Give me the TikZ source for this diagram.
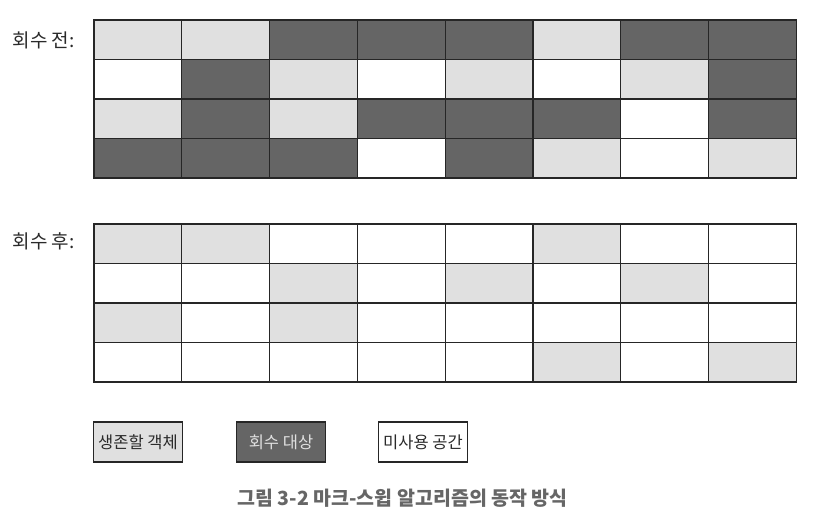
\documentclass[tikz,border=0pt]{standalone}
\usepackage{fontspec}
\setmainfont{Noto Sans CJK KR}
\usetikzlibrary{positioning}

\definecolor{live}{HTML}{E0E0E0}
\definecolor{dead}{HTML}{656565}
\definecolor{free}{HTML}{FFFFFF}
\definecolor{inktext}{HTML}{2A2A2A}

\tikzset{
    cell/.style={rectangle, draw=black!85, line width=1.2pt, minimum width=87.8pt, minimum height=39.5pt, inner sep=0pt},
    keybox/.style={rectangle, draw=black!85, line width=1.2pt, minimum width=89pt, minimum height=40pt, inner sep=0pt, font=\fontsize{16.5}{19}\selectfont, text=inktext},
    heap/.style={font=\fontsize{19}{22}\selectfont, text=inktext, anchor=west}
}

\begin{document}
\begin{tikzpicture}[x=1pt, y=-1pt]
    \useasboundingbox[fill=white] (0,0) rectangle (822,517);

    % before collection
    \node[heap] (beforelbl) at (9,40) {회수 전:};
    \foreach \row/\pattern in {1/{live,live,dead,dead,dead,live,dead,dead},
                               2/{free,dead,live,free,live,free,live,dead},
                               3/{live,dead,live,dead,dead,dead,free,dead},
                               4/{dead,dead,dead,free,dead,live,free,live}}{
        \foreach \c [count=\col] in \pattern{
            \node[cell, fill=\c] (b\row\col) at (94 + 87.8*\col - 43.9, 20 + 39.5*\row - 19.75) {};
        }
    }

    % after collection
    \node[heap] (afterlbl) at (9,241) {회수 후:};
    \foreach \row/\pattern in {1/{live,live,free,free,free,live,free,free},
                               2/{free,free,live,free,live,free,live,free},
                               3/{live,free,live,free,free,free,free,free},
                               4/{free,free,free,free,free,live,free,live}}{
        \foreach \c [count=\col] in \pattern{
            \node[cell, fill=\c] (a\row\col) at (94 + 87.8*\col - 43.9, 224 + 39.5*\row - 19.75) {};
        }
    }

    % legend
    \node[keybox, fill=live] (keylive) at (138,442) {생존할 객체};
    \node[keybox, fill=dead, text=live] (keydead) at (281,442) {회수 대상};
    \node[keybox, fill=free] (keyfree) at (423,442) {미사용 공간};

    \node[font=\fontsize{19.5}{22}\selectfont\bfseries, text=black!60, anchor=west] (caption) at (234,498) {그림 3-2 마크-스윕 알고리즘의 동작 방식};
\end{tikzpicture}
\end{document}
